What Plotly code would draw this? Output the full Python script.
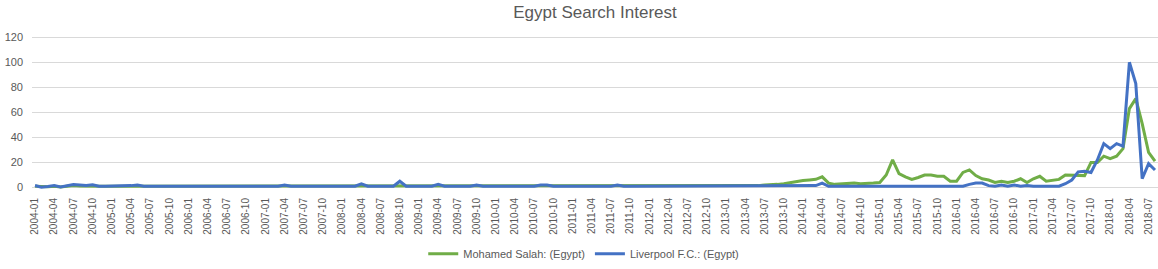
import plotly.graph_objects as go
import pandas as pd

months = [p.strftime("%Y-%m") for p in pd.period_range("2004-01", "2018-08", freq="M")]

# Mohamed Salah: (Egypt) -- one value per month, by year
salah_2004 = [1, 0.5, 0.5, 1, 0.5, 1, 1.5, 1.2, 1, 1.2, 1, 1]
salah_2005 = [1, 1, 1, 1.2, 1.5, 1, 1, 1, 1, 1, 1, 1]
salah_2006 = [1, 1, 1, 1, 1, 1, 1, 1, 1, 1, 1, 1]
salah_2007 = [1, 1, 1, 1.5, 1, 1, 1, 1, 1, 1, 1, 1]
salah_2008 = [1, 1, 1, 1.5, 1, 1, 1, 1, 1, 1.5, 1, 1]
salah_2009 = [1, 1, 1, 1.5, 1, 1, 1, 1, 1, 1.5, 1, 1]
salah_2010 = [1, 1, 1, 1, 1, 1, 1, 1.5, 1.5, 1, 1, 1]
salah_2011 = [1, 1, 1, 1, 1, 1, 1, 1.5, 1, 1, 1, 1]
salah_2012 = [1, 1, 1, 1, 1, 1, 1, 1, 1, 1, 1, 1]
salah_2013 = [1, 1, 1, 1, 1, 1.5, 2, 2, 2.5, 3, 4, 5]
salah_2014 = [5.5, 6, 6.5, 8.5, 3.5, 2.5, 3, 3, 3.5, 3, 3, 3.5]
salah_2015 = [4, 10, 22, 11, 8.5, 6.5, 8, 10, 10, 9, 9, 5]
salah_2016 = [5, 12, 14, 9.5, 7, 6, 4, 5, 4, 5, 7, 4]
salah_2017 = [7, 9, 5, 6, 6.5, 10, 10, 10, 9.5, 20, 20, 25]
salah_2018 = [23, 25, 31, 63, 71, 51, 28, 21]

# Liverpool F.C.: (Egypt)
lfc_2004 = [1.6, 0.2, 0.8, 1.6, 0.4, 1.6, 2.4, 2, 1.6, 2.2, 1, 1]
lfc_2005 = [1, 1, 1, 1.5, 2, 1, 1, 1, 1, 1, 1, 1]
lfc_2006 = [1, 1, 1, 1, 1, 1, 1, 1, 1, 1, 1, 1]
lfc_2007 = [1, 1, 1, 2, 1, 1, 1, 1, 1, 1, 1, 1]
lfc_2008 = [1, 1, 1, 3, 1, 1, 1, 1, 1, 5, 1, 1]
lfc_2009 = [1, 1, 1, 2.5, 1, 1, 1, 1, 1, 2, 1, 1]
lfc_2010 = [1, 1, 1, 1, 1, 1, 1, 2, 2, 1, 1, 1]
lfc_2011 = [1, 1, 1, 1, 1, 1, 1, 2, 1, 1, 1, 1]
lfc_2012 = [1, 1, 1, 1, 1, 1, 1, 1, 1, 1, 1, 1]
lfc_2013 = [1, 1, 1, 1, 1, 1, 1, 1, 1, 1, 1.5, 1]
lfc_2014 = [1.5, 1, 1.5, 3.5, 1, 1, 1, 1, 1.5, 1.2, 1.5, 1]
lfc_2015 = [1, 1, 1, 1, 1, 1, 1, 1, 1, 1, 1, 1]
lfc_2016 = [1.5, 1, 2.5, 3.5, 3.5, 1.5, 1, 2, 1, 2, 1, 1.5]
lfc_2017 = [1, 1, 1, 1, 1, 3, 6, 12.5, 13, 12, 22, 35]
lfc_2018 = [31, 35, 33, 100, 83, 7, 19, 14]

salah = (salah_2004 + salah_2005 + salah_2006 + salah_2007 + salah_2008 + salah_2009
         + salah_2010 + salah_2011 + salah_2012 + salah_2013 + salah_2014 + salah_2015
         + salah_2016 + salah_2017 + salah_2018)
liverpool = (lfc_2004 + lfc_2005 + lfc_2006 + lfc_2007 + lfc_2008 + lfc_2009
             + lfc_2010 + lfc_2011 + lfc_2012 + lfc_2013 + lfc_2014 + lfc_2015
             + lfc_2016 + lfc_2017 + lfc_2018)

tick_labels = months[::3]
y_ticks = [0, 20, 40, 60, 80, 100, 120]

idx = list(range(len(months)))

fig = go.Figure()
fig.add_trace(go.Scatter(x=idx, y=salah, mode="lines", name="Mohamed Salah: (Egypt)",
                         line=dict(color="#70AD47", width=3), text=months))
fig.add_trace(go.Scatter(x=idx, y=liverpool, mode="lines", name="Liverpool F.C.: (Egypt)",
                         line=dict(color="#4472C4", width=3), text=months))

fig.update_layout(
    width=1158, height=269,
    margin=dict(l=32, r=0, t=36, b=79),
    paper_bgcolor="white", plot_bgcolor="white",
    font=dict(family="Liberation Sans, Arial, sans-serif", color="#595959"),
    title=dict(text="Egypt Search Interest", x=0.5, xref="paper", xanchor="center",
               y=0.955, yanchor="middle", font=dict(size=17, color="#595959")),
    showlegend=True,
    legend=dict(orientation="h", x=0.49, xanchor="center", yref="container",
                y=0.057, yanchor="middle", font=dict(size=11, color="#595959"),
                itemwidth=30, traceorder="normal"),
    xaxis=dict(range=[-0.47, 175.47], tickmode="array",
               tickvals=idx[::3], ticktext=tick_labels, tickangle=-90,
               tickfont=dict(size=10, color="#595959"), showgrid=False,
               zeroline=False, showline=False, ticks="",
               ticklabelstandoff=5),
    yaxis=dict(range=[-2, 121], tickmode="array", tickvals=y_ticks,
               tickfont=dict(size=11, color="#595959"), showgrid=True,
               gridcolor="#D9D9D9", gridwidth=1, zeroline=True,
               zerolinecolor="#D9D9D9", zerolinewidth=1, ticks="",
               ticklabelstandoff=8),
)

fig.write_html("out.html")
